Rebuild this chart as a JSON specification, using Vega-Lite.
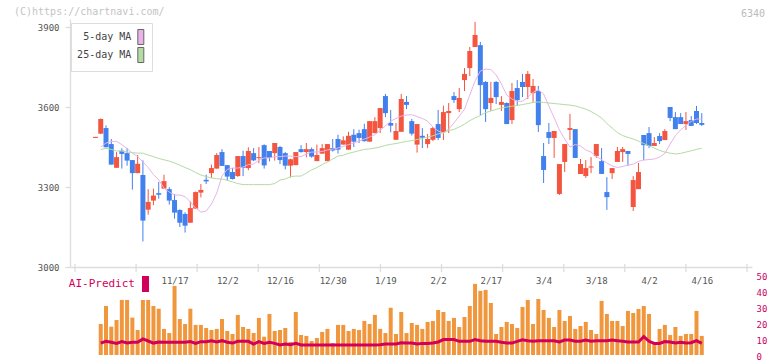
{
"$schema":"https://vega.github.io/schema/vega-lite/v6.json",
"autosize":{"type":"pad"},
"padding":{"left":14,"top":7,"right":0,"bottom":0},
"background":"white",
"bounds":"flush",
"spacing":0,
"config":{"view":{"stroke":null},"font":"DejaVu Sans Mono","axis":{"labelOverlap":false,"labelFlush":false,"labelBound":false}},
"title":{"text":"6340","anchor":"end","frame":"group","dx":13,"offset":-12,"fontSize":10,"font":"DejaVu Sans Mono","fontWeight":"normal","color":"#bbbbbb"},
"datasets":{
"grid":[{"g":-3.88},{"g":7.71},{"g":19.29},{"g":30.88},{"g":42.47},{"g":54.06},{"g":65.64},{"g":77.23},{"g":88.82},{"g":100.40},{"g":111.99},{"g":123.58}],
"ohlc":[
{"i":0,"o":3484,"h":3488,"l":3484,"c":3488},
{"i":1,"o":3500,"h":3557,"l":3498,"c":3555,"v":19.5,"p":7.5,"m5":3450,"m25":3441},
{"i":2,"o":3521,"h":3531,"l":3449,"c":3449,"v":30.8,"p":8.6,"m5":3465,"m25":3445},
{"i":3,"o":3461,"h":3480,"l":3384,"c":3384,"v":17.8,"p":8.0,"m5":3471,"m25":3441},
{"i":4,"o":3372,"h":3431,"l":3372,"c":3412,"v":22,"p":7.3,"m5":3471,"m25":3435},
{"i":5,"o":3436,"h":3445,"l":3369,"c":3424,"v":34.6,"p":8.4,"m5":3459,"m25":3435},
{"i":6,"o":3427,"h":3446,"l":3380,"c":3399,"v":34.6,"p":7.5,"m5":3444,"m25":3431},
{"i":7,"o":3401,"h":3401,"l":3290,"c":3352,"v":23.5,"p":8.0,"m5":3427,"m25":3429},
{"i":8,"o":3352,"h":3420,"l":3352,"c":3387,"v":15.7,"p":8.0,"m5":3414,"m25":3427},
{"i":9,"o":3345,"h":3400,"l":3096,"c":3174,"v":34.6,"p":10.1,"m5":3394,"m25":3427},
{"i":10,"o":3215,"h":3292,"l":3196,"c":3244,"v":34.6,"p":8.8,"m5":3373,"m25":3420},
{"i":11,"o":3249,"h":3294,"l":3232,"c":3268,"v":30.8,"p":7.5,"m5":3347,"m25":3414},
{"i":12,"o":3277,"h":3319,"l":3256,"c":3271,"v":29.1,"p":8.2,"m5":3327,"m25":3407},
{"i":13,"o":3294,"h":3346,"l":3294,"c":3322,"v":16.4,"p":8.0,"m5":3296,"m25":3402},
{"i":14,"o":3292,"h":3299,"l":3234,"c":3249,"v":13.8,"p":8.0,"m5":3281,"m25":3397},
{"i":15,"o":3251,"h":3273,"l":3181,"c":3204,"v":43.4,"p":8.0,"m5":3270,"m25":3390},
{"i":16,"o":3214,"h":3216,"l":3150,"c":3166,"v":22.6,"p":8.0,"m5":3270,"m25":3382},
{"i":17,"o":3199,"h":3205,"l":3129,"c":3155,"v":19.5,"p":8.0,"m5":3264,"m25":3373},
{"i":18,"o":3166,"h":3246,"l":3166,"c":3221,"v":29.1,"p":8.4,"m5":3244,"m25":3365},
{"i":19,"o":3219,"h":3283,"l":3219,"c":3281,"v":18.9,"p":7.3,"m5":3221,"m25":3354},
{"i":20,"o":3279,"h":3311,"l":3261,"c":3289,"v":18.9,"p":8.4,"m5":3206,"m25":3345},
{"i":21,"o":3327,"h":3346,"l":3311,"c":3321,"v":17,"p":8.4,"m5":3210,"m25":3339},
{"i":22,"o":3352,"h":3384,"l":3334,"c":3371,"v":15.7,"p":9.0,"m5":3236,"m25":3334},
{"i":23,"o":3369,"h":3427,"l":3369,"c":3420,"v":16.4,"p":8.2,"m5":3277,"m25":3331},
{"i":24,"o":3431,"h":3442,"l":3379,"c":3379,"v":22.6,"p":9.0,"m5":3341,"m25":3330},
{"i":25,"o":3382,"h":3382,"l":3324,"c":3339,"v":15.1,"p":8.0,"m5":3366,"m25":3325},
{"i":26,"o":3356,"h":3371,"l":3328,"c":3330,"v":13.2,"p":7.5,"m5":3371,"m25":3319},
{"i":27,"o":3341,"h":3416,"l":3338,"c":3416,"v":25.2,"p":8.6,"m5":3371,"m25":3313},
{"i":28,"o":3416,"h":3436,"l":3341,"c":3372,"v":17.6,"p":8.6,"m5":3375,"m25":3309},
{"i":29,"o":3371,"h":3449,"l":3363,"c":3435,"v":16.4,"p":8.6,"m5":3384,"m25":3309},
{"i":30,"o":3427,"h":3446,"l":3397,"c":3400,"v":13.8,"p":6.9,"m5":3386,"m25":3309},
{"i":31,"o":3408,"h":3450,"l":3389,"c":3412,"v":23.3,"p":8.4,"m5":3401,"m25":3309},
{"i":32,"o":3457,"h":3460,"l":3369,"c":3381,"v":11.5,"p":7.3,"m5":3409,"m25":3309},
{"i":33,"o":3435,"h":3435,"l":3396,"c":3409,"v":25.8,"p":8.0,"m5":3409,"m25":3309},
{"i":34,"o":3427,"h":3465,"l":3399,"c":3465,"v":15.1,"p":7.3,"m5":3414,"m25":3313},
{"i":35,"o":3450,"h":3454,"l":3386,"c":3401,"v":15.7,"p":6.3,"m5":3414,"m25":3326},
{"i":36,"o":3427,"h":3431,"l":3366,"c":3380,"v":17,"p":6.9,"m5":3416,"m25":3330},
{"i":37,"o":3380,"h":3406,"l":3336,"c":3404,"v":8.2,"p":6.5,"m5":3416,"m25":3339},
{"i":38,"o":3382,"h":3431,"l":3382,"c":3431,"v":27,"p":7.3,"m5":3414,"m25":3341},
{"i":39,"o":3442,"h":3457,"l":3429,"c":3431,"v":12.6,"p":6.3,"m5":3414,"m25":3341},
{"i":40,"o":3431,"h":3465,"l":3411,"c":3442,"v":12,"p":6.3,"m5":3424,"m25":3352},
{"i":41,"o":3442,"h":3448,"l":3410,"c":3414,"v":8.8,"p":6.3,"m5":3431,"m25":3364},
{"i":42,"o":3397,"h":3459,"l":3397,"c":3420,"v":10.7,"p":6.3,"m5":3431,"m25":3373},
{"i":43,"o":3425,"h":3461,"l":3425,"c":3446,"v":14.5,"p":6.3,"m5":3433,"m25":3384},
{"i":44,"o":3397,"h":3461,"l":3397,"c":3461,"v":16.4,"p":6.3,"m5":3439,"m25":3394},
{"i":45,"o":3446,"h":3480,"l":3433,"c":3437,"v":7.5,"p":6.3,"m5":3442,"m25":3405},
{"i":46,"o":3480,"h":3496,"l":3425,"c":3440,"v":18.9,"p":6.3,"m5":3446,"m25":3416},
{"i":47,"o":3459,"h":3490,"l":3459,"c":3475,"v":18.9,"p":6.3,"m5":3452,"m25":3419},
{"i":48,"o":3440,"h":3507,"l":3440,"c":3492,"v":15.1,"p":6.3,"m5":3459,"m25":3426},
{"i":49,"o":3496,"h":3517,"l":3450,"c":3470,"v":16.4,"p":6.3,"m5":3465,"m25":3431},
{"i":50,"o":3502,"h":3515,"l":3465,"c":3484,"v":15.7,"p":6.3,"m5":3472,"m25":3436},
{"i":51,"o":3517,"h":3537,"l":3470,"c":3472,"v":21.4,"p":6.3,"m5":3480,"m25":3441},
{"i":52,"o":3470,"h":3547,"l":3470,"c":3547,"v":19.5,"p":6.3,"m5":3487,"m25":3443},
{"i":53,"o":3502,"h":3562,"l":3502,"c":3547,"v":25.2,"p":6.3,"m5":3497,"m25":3446},
{"i":54,"o":3521,"h":3596,"l":3502,"c":3596,"v":16.4,"p":6.5,"m5":3512,"m25":3450},
{"i":55,"o":3641,"h":3649,"l":3562,"c":3577,"v":13.8,"p":6.9,"m5":3529,"m25":3456},
{"i":56,"o":3540,"h":3589,"l":3505,"c":3530,"v":29.7,"p":6.9,"m5":3547,"m25":3460},
{"i":57,"o":3477,"h":3540,"l":3477,"c":3510,"v":13.2,"p":6.9,"m5":3557,"m25":3463},
{"i":58,"o":3507,"h":3649,"l":3507,"c":3630,"v":27,"p":7.7,"m5":3566,"m25":3467},
{"i":59,"o":3619,"h":3641,"l":3592,"c":3608,"v":13.8,"p":7.5,"m5":3570,"m25":3471},
{"i":60,"o":3547,"h":3555,"l":3493,"c":3500,"v":20.1,"p":7.5,"m5":3571,"m25":3474},
{"i":61,"o":3459,"h":3536,"l":3429,"c":3536,"v":18.9,"p":6.9,"m5":3564,"m25":3478},
{"i":62,"o":3492,"h":3521,"l":3446,"c":3485,"v":16.4,"p":7.3,"m5":3557,"m25":3482},
{"i":63,"o":3461,"h":3499,"l":3446,"c":3480,"v":20.8,"p":7.3,"m5":3547,"m25":3487},
{"i":64,"o":3477,"h":3525,"l":3472,"c":3521,"v":21.4,"p":7.5,"m5":3525,"m25":3492},
{"i":65,"o":3536,"h":3589,"l":3476,"c":3484,"v":28.3,"p":8.2,"m5":3510,"m25":3499},
{"i":66,"o":3506,"h":3605,"l":3476,"c":3581,"v":27,"p":9.7,"m5":3502,"m25":3504},
{"i":67,"o":3577,"h":3615,"l":3502,"c":3585,"v":21.4,"p":9.7,"m5":3517,"m25":3512},
{"i":68,"o":3641,"h":3656,"l":3615,"c":3626,"v":23.3,"p":9.7,"m5":3540,"m25":3516},
{"i":69,"o":3592,"h":3671,"l":3581,"c":3634,"v":17.6,"p":8.6,"m5":3566,"m25":3525},
{"i":70,"o":3701,"h":3746,"l":3660,"c":3724,"v":23.9,"p":8.6,"m5":3592,"m25":3536},
{"i":71,"o":3746,"h":3825,"l":3716,"c":3810,"v":30.8,"p":8.6,"m5":3645,"m25":3549},
{"i":72,"o":3825,"h":3919,"l":3825,"c":3870,"v":44.7,"p":9.7,"m5":3697,"m25":3559},
{"i":73,"o":3832,"h":3844,"l":3570,"c":3682,"v":40.3,"p":9.0,"m5":3735,"m25":3568},
{"i":74,"o":3694,"h":3697,"l":3544,"c":3592,"v":40.9,"p":8.6,"m5":3742,"m25":3579},
{"i":75,"o":3615,"h":3694,"l":3585,"c":3634,"v":32.7,"p":8.6,"m5":3741,"m25":3585},
{"i":76,"o":3694,"h":3697,"l":3611,"c":3637,"v":13.2,"p":8.6,"m5":3720,"m25":3591},
{"i":77,"o":3608,"h":3641,"l":3585,"c":3619,"v":17.6,"p":8.0,"m5":3686,"m25":3596},
{"i":78,"o":3615,"h":3617,"l":3536,"c":3536,"v":20.8,"p":7.5,"m5":3645,"m25":3600},
{"i":79,"o":3551,"h":3690,"l":3536,"c":3660,"v":19.5,"p":7.5,"m5":3630,"m25":3603},
{"i":80,"o":3671,"h":3701,"l":3604,"c":3626,"v":17,"p":8.6,"m5":3621,"m25":3606},
{"i":81,"o":3694,"h":3724,"l":3637,"c":3675,"v":30.2,"p":9.5,"m5":3622,"m25":3609},
{"i":82,"o":3675,"h":3735,"l":3630,"c":3724,"v":34.6,"p":9.0,"m5":3636,"m25":3613},
{"i":83,"o":3652,"h":3705,"l":3619,"c":3679,"v":19.5,"p":8.6,"m5":3655,"m25":3617},
{"i":84,"o":3660,"h":3679,"l":3506,"c":3532,"v":35.2,"p":9.0,"m5":3664,"m25":3619},
{"i":85,"o":3416,"h":3465,"l":3315,"c":3364,"v":28.3,"p":9.0,"m5":3649,"m25":3617},
{"i":86,"o":3506,"h":3540,"l":3461,"c":3484,"v":23.3,"p":9.0,"m5":3604,"m25":3615},
{"i":87,"o":3484,"h":3510,"l":3409,"c":3510,"v":17.6,"p":9.0,"m5":3559,"m25":3613},
{"i":88,"o":3274,"h":3386,"l":3270,"c":3386,"v":28.3,"p":8.2,"m5":3514,"m25":3611},
{"i":89,"o":3394,"h":3461,"l":3356,"c":3461,"v":21.4,"p":9.4,"m5":3480,"m25":3609},
{"i":90,"o":3514,"h":3574,"l":3476,"c":3521,"v":24.5,"p":9.4,"m5":3450,"m25":3607},
{"i":91,"o":3517,"h":3517,"l":3409,"c":3409,"v":16.4,"p":8.6,"m5":3459,"m25":3604},
{"i":92,"o":3349,"h":3405,"l":3349,"c":3386,"v":18.2,"p":8.6,"m5":3454,"m25":3598},
{"i":93,"o":3341,"h":3401,"l":3334,"c":3371,"v":20.8,"p":9.4,"m5":3439,"m25":3592},
{"i":94,"o":3373,"h":3412,"l":3352,"c":3377,"v":15.7,"p":8.6,"m5":3431,"m25":3583},
{"i":95,"o":3416,"h":3461,"l":3409,"c":3461,"v":13.2,"p":9.0,"m5":3414,"m25":3572},
{"i":96,"o":3397,"h":3446,"l":3349,"c":3349,"v":34,"p":9.0,"m5":3403,"m25":3559},
{"i":97,"o":3281,"h":3337,"l":3214,"c":3262,"v":25.8,"p":9.0,"m5":3390,"m25":3538},
{"i":98,"o":3352,"h":3371,"l":3330,"c":3371,"v":21.4,"p":9.4,"m5":3379,"m25":3521},
{"i":99,"o":3394,"h":3450,"l":3394,"c":3435,"v":21.4,"p":9.0,"m5":3373,"m25":3504},
{"i":100,"o":3431,"h":3450,"l":3394,"c":3442,"v":18.2,"p":8.6,"m5":3377,"m25":3493},
{"i":101,"o":3435,"h":3435,"l":3379,"c":3424,"v":27.7,"p":8.2,"m5":3382,"m25":3486},
{"i":102,"o":3225,"h":3341,"l":3210,"c":3326,"v":26.4,"p":8.2,"m5":3386,"m25":3480},
{"i":103,"o":3292,"h":3390,"l":3292,"c":3356,"v":28.9,"p":8.2,"m5":3396,"m25":3472},
{"i":104,"o":3495,"h":3495,"l":3401,"c":3457,"v":30.8,"p":11.6,"m5":3401,"m25":3463},
{"i":105,"o":3502,"h":3525,"l":3446,"c":3454,"v":25.8,"p":8.6,"m5":3403,"m25":3454},
{"i":106,"o":3454,"h":3487,"l":3454,"c":3465,"v":6.9,"p":7.3,"m5":3405,"m25":3446},
{"i":107,"o":3491,"h":3502,"l":3461,"c":3472,"v":16.4,"p":7.3,"m5":3412,"m25":3437},
{"i":108,"o":3476,"h":3517,"l":3476,"c":3510,"v":18.9,"p":8.4,"m5":3426,"m25":3431},
{"i":109,"o":3600,"h":3600,"l":3547,"c":3559,"v":12.6,"p":8.2,"m5":3461,"m25":3427},
{"i":110,"o":3562,"h":3581,"l":3517,"c":3517,"v":17.6,"p":7.5,"m5":3493,"m25":3424},
{"i":111,"o":3562,"h":3577,"l":3536,"c":3536,"v":12,"p":8.0,"m5":3514,"m25":3426},
{"i":112,"o":3536,"h":3581,"l":3514,"c":3547,"v":13.2,"p":7.5,"m5":3531,"m25":3431},
{"i":113,"o":3551,"h":3566,"l":3529,"c":3529,"v":13.2,"p":7.7,"m5":3546,"m25":3436},
{"i":114,"o":3585,"h":3604,"l":3536,"c":3540,"v":27.7,"p":9.0,"m5":3555,"m25":3441},
{"i":115,"o":3540,"h":3577,"l":3529,"c":3533,"v":12,"p":7.3,"m5":3555,"m25":3445}
]},
"vconcat":[
{
"width":682,"height":248,
"title":{"text":"(C)https://chartnavi.com/","anchor":"start","frame":"group","dx":-56,"offset":2,"fontSize":10,"font":"DejaVu Sans Mono","fontWeight":"normal","color":"#c4c4c4"},
"data":{"name":"ohlc"},
"encoding":{"x":{"field":"i","type":"quantitative","scale":{"domain":[-3.88,123.58],"nice":false,"zero":false},
 "axis":{"values":[15,25,35,45,55,65,75,85,95,105,115],"tickCount":20,"labelExpr":"['11/17','12/2','12/16','12/30','1/19','2/2','2/17','3/4','3/18','4/2','4/16'][round((datum.value-15)/10)]","ticks":false,"grid":false,"domain":true,"domainColor":"#dddddd","domainWidth":1.3,"labelFont":"DejaVu Sans Mono","labelFontSize":9,"labelColor":"#555555","labelPadding":9,"title":null}}},
"layer":[
{"data":{"name":"grid"},"mark":{"type":"rule","color":"#dddddd","strokeWidth":1.3},"encoding":{"x":{"field":"g","type":"quantitative"},"y":{"datum":3011,"type":"quantitative"},"y2":{"datum":2981}}},
{"mark":{"type":"rule","strokeWidth":1},"encoding":{"y":{"field":"l","type":"quantitative","scale":{"domain":[3000,3930],"nice":false,"zero":false},"axis":{"values":[3000,3300,3600,3900],"tickCount":10,"format":"d","grid":false,"domainColor":"#dddddd","domainWidth":1.3,"tickColor":"#dddddd","tickSize":5,"tickWidth":1.3,"labelFont":"DejaVu Sans Mono","labelFontSize":9,"labelColor":"#555555","labelPadding":6,"title":null}},"y2":{"field":"h"},"color":{"condition":{"test":"datum.c >= datum.o","value":"#f4553f"},"value":"#4280ee"}}},
{"mark":{"type":"bar","size":5},"encoding":{"y":{"field":"o","type":"quantitative"},"y2":{"field":"c"},"color":{"condition":{"test":"datum.c >= datum.o","value":"#f4553f"},"value":"#4280ee"}}},
{"mark":{"type":"line","color":"#e8b4e8","strokeWidth":1},"encoding":{"y":{"field":"m5","type":"quantitative"}}},
{"mark":{"type":"line","color":"#b4dba4","strokeWidth":1},"encoding":{"y":{"field":"m25","type":"quantitative"}}},
{"data":{"values":[{"s":"5-day MA"},{"s":"25-day MA"}]},"mark":{"type":"square","opacity":0},"encoding":{"color":{"field":"s","type":"nominal","scale":{"domain":["5-day MA","25-day MA"],"range":["#e8b4e8","#b4dba4"]},
 "legend":{"orient":"none","legendX":1,"legendY":4,"title":null,"symbolType":"M-0.4,-1H0.4V1H-0.4Z","symbolSize":225,"symbolOpacity":1,"symbolStrokeColor":"#666666","symbolStrokeWidth":1,"symbolOffset":55.8,"labelAlign":"right","labelOffset":-17.5,"labelFont":"DejaVu Sans Mono","labelFontSize":10,"labelColor":"#444444","strokeColor":"#dddddd","fillColor":"#ffffff","padding":6,"rowPadding":-3}}}}
]
},
{
"width":682,"height":88,
"data":{"name":"ohlc"},
"encoding":{"x":{"field":"i","type":"quantitative","scale":{"domain":[-3.88,123.58],"nice":false,"zero":false},"axis":null}},
"layer":[
{"mark":{"type":"bar","size":4,"color":"#f0963c"},"encoding":{"y":{"field":"v","type":"quantitative","scale":{"domain":[0,55.3],"nice":false},"axis":{"orient":"right","values":[0,10,20,30,40,50],"tickCount":12,"domain":false,"ticks":false,"grid":false,"labelOverlap":false,"labelOffset":1.5,"labelFont":"DejaVu Sans Mono","labelFontSize":9,"labelColor":"#cc0066","labelPadding":4,"title":null}}}},
{"mark":{"type":"line","color":"#d2005a","strokeWidth":3},"encoding":{"y":{"field":"p","type":"quantitative"}}},
{"data":{"values":[{"s":"AI-Predict"}]},"mark":{"type":"square","opacity":0},"encoding":{"color":{"field":"s","type":"nominal","scale":{"domain":["AI-Predict"],"range":["#d2005a"]},
 "legend":{"orient":"none","legendX":4,"legendY":9,"title":null,"symbolType":"M-0.44,-1H0.44V1H-0.44Z","symbolSize":256,"symbolOpacity":1,"symbolStrokeWidth":0,"symbolOffset":63.5,"labelAlign":"right","labelOffset":-18.5,"labelFont":"DejaVu Sans Mono","labelFontSize":11,"labelColor":"#d2005a","padding":0}}}}
]
}
],
"resolve":{"scale":{"color":"independent"},"legend":{"color":"independent"}}
}
